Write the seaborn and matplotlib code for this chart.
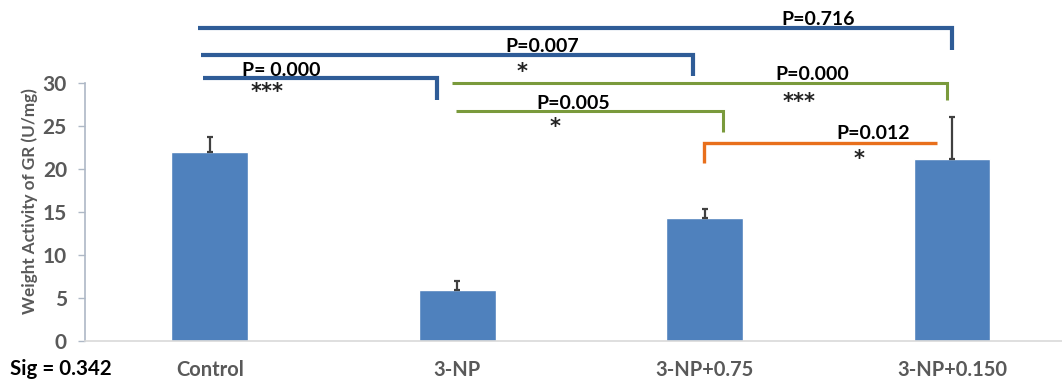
import matplotlib
matplotlib.use("Agg")
import matplotlib.pyplot as plt
import seaborn as sns
import numpy as np
import pandas as pd

# ---- data ----
categories = ["Control", "3-NP", "3-NP+0.75", "3-NP+0.150"]
means = [22.0, 5.9, 14.3, 21.2]
errors = [1.7, 1.1, 1.1, 4.9]

# comparison brackets
bracket_x0 = [-0.047, -0.035, -0.027, 0.979, 0.995, 1.997]
bracket_x1 = [3.0, 1.953, 0.918, 2.979, 2.074, 2.939]
bracket_y = [36.4, 33.3, 30.6, 30.0, 26.8, 23.0]
bracket_leg = [33.9, 30.9, 28.1, 28.1, 24.3, 20.7]
bracket_side = ["right", "right", "right", "right", "right", "left"]
p_labels = ["P=0.716", "P=0.007", "P= 0.000", "P=0.000", "P=0.005", "P=0.012"]
p_x = [2.458, 1.343, 0.288, 2.434, 1.468, 2.68]
p_y = [37.4, 34.3, 31.5, 31.0, 27.7, 24.2]
star_labels = ["", "*", "***", "***", "*", "*"]
star_x = [0, 1.262, 0.232, 2.381, 1.395, 2.623]
star_y = [0, 32.1, 29.7, 28.6, 25.7, 21.9]

sns.set_theme(style="white")
plt.rcParams['font.family'] = ['Lato', 'DejaVu Sans']

BLUE = "#2F5C97"
GREEN = "#7A9A3C"
ORANGE = "#E86F1C"
bracket_colors = [BLUE, BLUE, BLUE, GREEN, GREEN, ORANGE]
bracket_lw = [3.0, 3.0, 3.0, 2.2, 2.2, 2.4]

fig = plt.figure(figsize=(10.62, 3.81), dpi=100)
ax = fig.add_axes([85 / 1062, 40 / 381, (1062 - 85) / 1062, (341 - 83.3) / 381])

df = pd.DataFrame({"group": categories, "value": means})
sns.barplot(data=df, x="group", y="value", ax=ax, color="#4F81BD",
            saturation=1, width=0.31, errorbar=None)

xs = np.arange(len(categories))
ax.errorbar(xs, means, yerr=[np.zeros(len(errors)), errors], fmt="none",
            ecolor="#404040", elinewidth=1.6, capsize=2, capthick=1.6, zorder=3)

ax.set_xlim(-0.504, 3.444)
ax.set_ylim(0, 30)
ax.set_yticks([0, 5, 10, 15, 20, 25, 30])

for s in ["top", "right"]:
    ax.spines[s].set_visible(False)
ax.spines["left"].set_color("#AEB8C6")
ax.spines["left"].set_linewidth(1.2)
ax.spines["bottom"].set_color("#D9D9D9")
ax.spines["bottom"].set_linewidth(1.2)

ax.tick_params(axis="y", which="both", left=True, length=5, width=1.0,
               color="#AEB8C6", pad=8, labelsize=15, labelcolor="#595959")
ax.tick_params(axis="x", length=0, pad=14, labelsize=14.5, labelcolor="#595959")
for lab in ax.get_yticklabels() + ax.get_xticklabels():
    lab.set_fontweight("bold")

ax.set_xlabel("")
ax.set_ylabel("")
fig.text(30 / 1062, (381 - 201) / 381, "Weight Activity of GR (U/mg)", rotation=90,
         ha="center", va="center", fontsize=12.3, fontweight="bold", color="#595959")
fig.text(10 / 1062, (381 - 369) / 381, "Sig = 0.342", ha="left", va="center",
         fontsize=14.8, fontweight="bold", color="black")

# asterisk baseline offset (data units) so the glyph centre lands at star_y
star_fs = 15
star_off = 0.59 * star_fs * 100 / 72 / 8.59

for i in range(len(bracket_x0)):
    x0, x1 = bracket_x0[i], bracket_x1[i]
    y, yl = bracket_y[i], bracket_leg[i]
    c = bracket_colors[i]
    if bracket_side[i] == "right":
        px = [x0, x1, x1]
        py = [y, y, yl]
    else:
        px = [x0, x0, x1]
        py = [yl, y, y]
    ax.plot(px, py, color=c, lw=bracket_lw[i], clip_on=False,
            solid_joinstyle="miter", solid_capstyle="butt", zorder=4)
    ax.text(p_x[i], p_y[i], p_labels[i], ha="center", va="center", fontsize=14,
            fontweight="bold", color="black", clip_on=False, zorder=5)
    if star_labels[i]:
        ax.text(star_x[i], star_y[i] - star_off, star_labels[i], ha="center",
                va="baseline", fontsize=star_fs, fontweight="bold", color="#222222",
                family="DejaVu Sans", clip_on=False, zorder=5)

fig.savefig("out.png", dpi=100)
